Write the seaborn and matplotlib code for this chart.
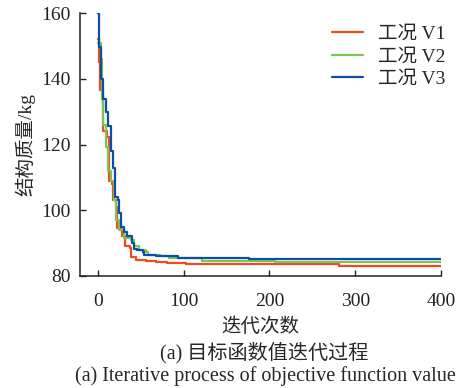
import matplotlib
matplotlib.use("Agg")
import numpy as np
import pandas as pd
import matplotlib.pyplot as plt
import seaborn as sns

# breakpoints of the step curves (iteration, structural mass in kg)
iter_v1 = [0, 1, 2, 6, 10, 13, 16, 18, 21, 22, 27, 28, 31, 37, 38, 44, 56, 68, 80, 103, 281, 400]
mass_v1 = [152, 145, 136.6, 124, 122.4, 109, 108, 103, 101, 94.5, 94, 92, 89, 88.5, 85.8, 84.8, 84.5, 84.1, 83.8, 83.5, 83.1, 83.1]

iter_v2 = [0, 3, 5, 6, 9, 12, 15, 19, 21, 24, 30, 38, 42, 48, 56, 58, 72, 83, 121, 207, 400]
mass_v2 = [151, 146, 134, 126, 119.3, 112, 109, 103, 97, 94, 91.4, 91, 89, 88, 87.4, 86.4, 86, 85.4, 84.6, 84.3, 84.3]

iter_v3 = [0, 1, 4, 6, 9, 12, 15, 18, 20, 23, 25, 27, 30, 34, 40, 42, 46, 52, 54, 68, 93, 123, 176, 400]
mass_v3 = [160, 149.8, 140, 134, 130, 125.5, 118, 113, 104, 103, 99, 95, 93.4, 92, 90, 88.3, 87.8, 87.3, 86.3, 86, 85.5, 85.3, 85.0, 85.0]

labels = ["工况 V1", "工况 V2", "工况 V3"]
colors = ["#f04a23", "#7cc455", "#0b4fa3"]

frames = []
for lab, it, ms in zip(labels, [iter_v1, iter_v2, iter_v3], [mass_v1, mass_v2, mass_v3]):
    frames.append(pd.DataFrame({"iter": it, "mass": ms, "case": lab}))
df = pd.concat(frames, ignore_index=True)

sns.set_style("ticks")
fam = ["Liberation Serif", "Noto Sans CJK SC"]
plt.rcParams["font.family"] = fam
plt.rcParams["axes.unicode_minus"] = False

fig = plt.figure(figsize=(4.57, 3.88), dpi=100)
ax = fig.add_axes([0.175, 0.289, 0.79, 0.677])

sns.lineplot(data=df, x="iter", y="mass", hue="case", palette=colors,
             drawstyle="steps-post", linewidth=1.6, ax=ax, estimator=None, sort=False)

ax.set_xlim(-21, 400)
ax.set_ylim(80, 160)
ax.set_xticks([0, 100, 200, 300, 400])
ax.set_yticks([80, 100, 120, 140, 160])
ax.tick_params(direction="in", labelsize=14, length=4, width=1, colors="#222222")
ax.tick_params(axis="x", pad=12)
ax.tick_params(axis="y", pad=7)
for s in ["top", "right"]:
    ax.spines[s].set_visible(False)
for s in ["left", "bottom"]:
    ax.spines[s].set_linewidth(1.1)
    ax.spines[s].set_color("#222222")

ax.set_xlabel("迭代次数", fontsize=14, labelpad=6)
ax.set_ylabel("结构质量/kg", fontsize=14, labelpad=4)

leg = ax.legend(loc="upper right", frameon=False, fontsize=14, handlelength=1.6,
                labelspacing=0.25, handletextpad=0.75, bbox_to_anchor=(1.06, 1.02))
leg.set_title(None)

fig.text(0.578, 0.09, "(a) 目标函数值迭代过程", ha="center", va="center", fontsize=14.5)
fig.text(0.58, 0.031, "(a) Iterative process of objective function value", ha="center",
         va="center", fontsize=14.5)

fig.savefig("out.png", dpi=100)
